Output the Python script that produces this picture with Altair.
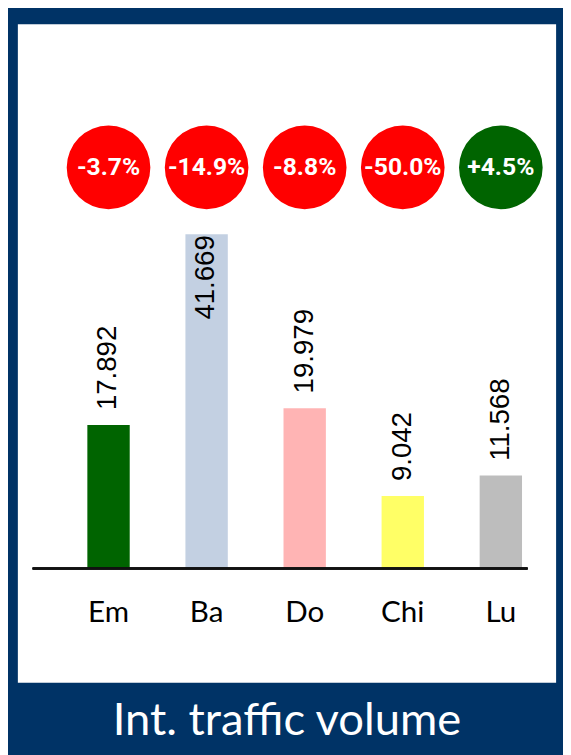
import altair as alt
import pandas as pd

categories = ["Em", "Ba", "Do", "Chi", "Lu"]
values = [17.892, 41.669, 19.979, 9.042, 11.568]
value_labels = ["17.892", "41.669", "19.979", "9.042", "11.568"]
changes = ["-3.7%", "-14.9%", "-8.8%", "-50.0%", "+4.5%"]
bar_colors = ["#006400", "#c3d0e2", "#ffb4b4", "#ffff66", "#bdbdbd"]
change_colors = ["#ff0000", "#ff0000", "#ff0000", "#ff0000", "#006400"]
label_inside = [False, True, False, False, False]

df = pd.DataFrame({
    "cat": categories,
    "val": values,
    "lab": value_labels,
    "chg": changes,
    "barcol": bar_colors,
    "chgcol": change_colors,
    "inside": label_inside,
})

xenc = alt.X("cat:N", sort=categories, axis=None,
             scale=alt.Scale(paddingInner=0.568, paddingOuter=0.528, align=0.671))
yscale = alt.Scale(domain=[-14.26, 67.85], nice=False, zero=False)

base = alt.Chart(df).encode(x=xenc)

bars = base.mark_bar().encode(
    y=alt.Y("val:Q", scale=yscale, axis=None),
    y2=alt.datum(0),
    fill=alt.Fill("barcol:N", scale=None),
)

baseline = alt.Chart(df).mark_rule(color="#111111", strokeWidth=2).encode(
    x=alt.value(15), x2=alt.value(517), y=alt.datum(0)
)

circles = base.mark_circle(size=7200, opacity=1).encode(
    y=alt.datum(50),
    fill=alt.Fill("chgcol:N", scale=None),
)

circle_text = base.mark_text(font="Roboto", fontWeight="bold", fontSize=25,
                             color="white", baseline="middle").encode(
    y=alt.datum(50), text="chg:N"
)

val_out = base.transform_filter("!datum.inside").mark_text(
    angle=270, align="left", baseline="middle", dx=15,
    font="Liberation Sans", fontSize=28, color="black"
).encode(y="val:Q", text="lab:N")

val_in = base.transform_filter("datum.inside").mark_text(
    angle=270, align="right", baseline="middle", dx=-1,
    font="Liberation Sans", fontSize=28, color="black"
).encode(y="val:Q", text="lab:N")

xlabels = base.mark_text(font="Lato", fontSize=30, color="black",
                         baseline="alphabetic").encode(
    y=alt.datum(-6.64), text="cat:N"
)

chart = alt.layer(bars, baseline, circles, circle_text, val_out, val_in, xlabels).properties(
    width=546,
    height=668,
    background="#003366",
    padding={"left": 10, "top": 11, "right": 7, "bottom": 20},
    title=alt.TitleParams("Int. traffic volume", orient="bottom", anchor="middle",
                          color="white", fontSize=46, font="Lato", fontWeight="normal",
                          baseline="alphabetic", offset=53),
).configure_view(fill="white", stroke=None)

chart.save("out.html", embed_options={"renderer": "svg", "actions": False})
